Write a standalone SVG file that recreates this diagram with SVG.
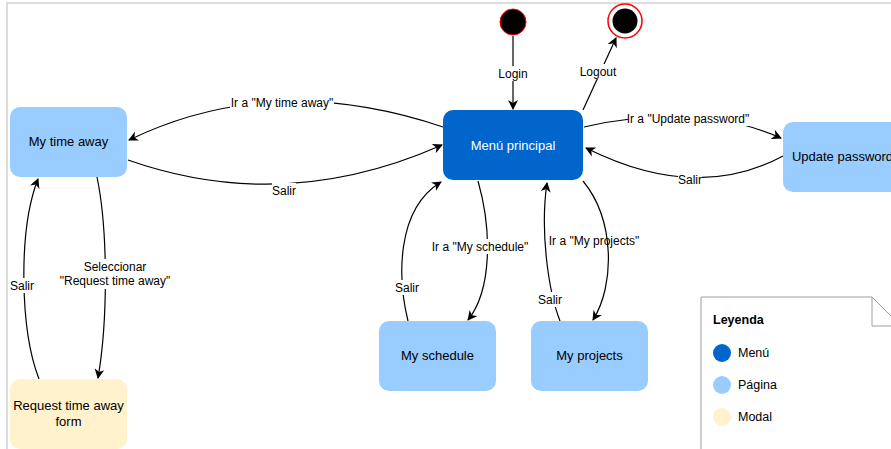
<svg xmlns="http://www.w3.org/2000/svg" width="891" height="449" viewBox="0 0 891 449">
<style>
text{font-family:"Liberation Sans",Arial,Helvetica,sans-serif;}
.node{font-size:13px;text-anchor:middle;fill:#000;}
.lbl{font-size:12px;text-anchor:middle;fill:#000;}
.edge{fill:none;stroke:#000;stroke-width:1.2;marker-end:url(#arr);}
.bg{fill:#fff;}
.page{fill:#99CCFF;}
</style>
<defs>
<marker id="arr" viewBox="0 0 10 10" refX="9" refY="5" markerWidth="10" markerHeight="10" markerUnits="userSpaceOnUse" orient="auto">
<path d="M0,0 L10,5 L0,10 L3,5 z" fill="#000"/>
</marker>
</defs>
<rect x="0" y="0" width="891" height="449" fill="#fff"/>
<rect x="7" y="3" width="900" height="470" fill="none" stroke="#dcdcdc" stroke-width="2"/>

<g id="connectors">
<path class="edge" d="M513,36 L513,109"/>
<path class="edge" d="M583,110 L616,38"/>
<path class="edge" d="M443,127 Q274,70 129,140"/>
<path class="edge" d="M128,160 Q284,215 442,145"/>
<path class="edge" d="M584,127 Q697,101 781,138"/>
<path class="edge" d="M783,156 Q696,203 586,148"/>
<path class="edge" d="M478,181 C492,230 492,290 468,320"/>
<path class="edge" d="M408,321 C398,280 395,210 441,182"/>
<path class="edge" d="M583,181 C615,220 615,285 593,320"/>
<path class="edge" d="M560,321 C548,290 540,230 547,183"/>
<path class="edge" d="M97,177 C108,230 108,320 98,378"/>
<path class="edge" d="M39,379 C20,330 18,230 38,179"/>
<g id="labels">
<rect class="bg" x="497" y="66" width="33" height="15"/><text class="lbl" x="513" y="78">Login</text>
<rect class="bg" x="578" y="64" width="41" height="15"/><text class="lbl" x="598" y="76">Logout</text>
<rect class="bg" x="230" y="95" width="104" height="15"/><text class="lbl" x="282" y="107">Ir a "My time away"</text>
<rect class="bg" x="272" y="183" width="24" height="15"/><text class="lbl" x="284" y="195">Salir</text>
<rect class="bg" x="628" y="111" width="121" height="15"/><text class="lbl" x="688" y="123">Ir a "Update password"</text>
<rect class="bg" x="678" y="172" width="24" height="15"/><text class="lbl" x="690" y="184">Salir</text>
<rect class="bg" x="433" y="239" width="95" height="15"/><text class="lbl" x="480" y="251">Ir a "My schedule"</text>
<rect class="bg" x="395" y="280" width="24" height="15"/><text class="lbl" x="407" y="292">Salir</text>
<text class="lbl" x="594" y="245">Ir a "My projects"</text>
<rect class="bg" x="538" y="292" width="24" height="15"/><text class="lbl" x="550" y="304">Salir</text>
<rect class="bg" x="62" y="259" width="110" height="30"/><text class="lbl" x="115" y="271">Seleccionar</text><text class="lbl" x="115" y="285">"Request time away"</text>
<rect class="bg" x="10" y="278" width="24" height="15"/><text class="lbl" x="22" y="290">Salir</text>
</g>
</g>

<g id="start"><circle cx="513" cy="22" r="13" fill="#000" stroke="#ff0000" stroke-width="1"/></g>
<g id="end"><circle cx="625" cy="21" r="17" fill="#fff" stroke="#ff0000" stroke-width="1.5"/><circle cx="625" cy="21" r="12.5" fill="#000"/></g>

<g id="menu"><rect x="443" y="110" width="140" height="70" rx="10" fill="#0066CC"/><text class="node" x="513" y="150" fill="#fff" style="fill:#fff">Menú principal</text></g>
<g id="timeaway"><rect class="page" x="10" y="107" width="117" height="70" rx="10"/><text class="node" x="68.5" y="146">My time away</text></g>
<g id="updatepw"><rect class="page" x="783" y="122" width="119" height="70" rx="10"/><text class="node" x="842.5" y="161">Update password</text></g>
<g id="request"><rect x="10" y="379" width="117" height="70" rx="10" fill="#FFF2CC"/><text class="node" x="68.5" y="410">Request time away</text><text class="node" x="68.5" y="426">form</text></g>
<g id="schedule"><rect class="page" x="379" y="321" width="117" height="70" rx="10"/><text class="node" x="437.5" y="360">My schedule</text></g>
<g id="projects"><rect class="page" x="531" y="321" width="117" height="70" rx="10"/><text class="node" x="589.5" y="360">My projects</text></g>

<g id="legend">
<path d="M701,460 L701,297 L872,297 L901,326 L901,460" fill="#fff" stroke="#9e9e9e" stroke-width="1"/>
<path d="M872,297 L872,326 L901,326" fill="none" stroke="#9e9e9e" stroke-width="1"/>
<text x="713" y="324" style="font-size:12.5px;font-weight:bold">Leyenda</text>
<circle cx="722" cy="353" r="9" fill="#0066CC"/><text x="738" y="357" style="font-size:12.5px">Menú</text>
<circle cx="722" cy="385" r="9" fill="#99CCFF"/><text x="738" y="389" style="font-size:12.5px">Página</text>
<circle cx="722" cy="417" r="9" fill="#FFF2CC"/><text x="738" y="421" style="font-size:12.5px">Modal</text>
</g>
</svg>
